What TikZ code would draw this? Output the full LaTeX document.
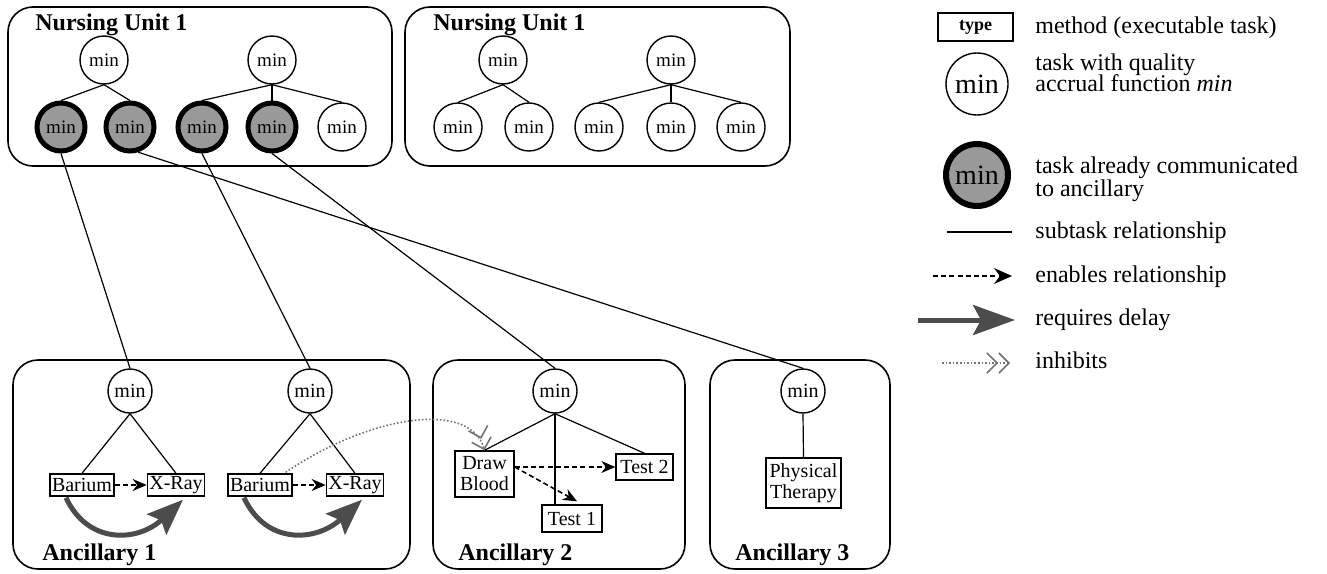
\documentclass[tikz,border=0pt]{standalone}
\usepackage{fontspec}
\setmainfont{Liberation Serif}
\usetikzlibrary{arrows.meta,calc}
\begin{document}
\begin{tikzpicture}[x=0.5pt,y=-0.5pt,
  unitbox/.style={draw, rounded corners=12.5pt, line width=0.8pt},
  title/.style={font=\fontsize{12}{13}\selectfont\bfseries, anchor=base west, inner sep=0pt},
  tnode/.style={circle, draw, line width=0.7pt, minimum size=24pt, inner sep=0pt, font=\fontsize{9.5}{10}\selectfont},
  done/.style={tnode, line width=2.5pt, fill=black!40},
  anode/.style={circle, draw, line width=0.7pt, minimum size=22pt, inner sep=0pt, font=\fontsize{10}{11}\selectfont},
  method/.style={draw, line width=0.7pt, inner sep=1pt, font=\fontsize{10}{10.5}\selectfont, align=center},
  sub/.style={line width=0.6pt},
  enab/.style={dash pattern=on 2.5pt off 1.6pt, line width=0.8pt, -{Stealth[length=7pt,width=6pt]}},
  delay/.style={line width=2.5pt, black!70, -{Stealth[length=18pt,width=14pt,inset=3pt]}},
  inhib/.style={densely dotted, black!55, line width=0.8pt, -{Straight Barb[length=5pt,width=10pt] Straight Barb[length=5pt,width=10pt]}},
  legtext/.style={font=\fontsize{12}{13}\selectfont, anchor=base west, inner sep=0pt}
]
\useasboundingbox (0,0) rectangle (1327,573);

% ---------- unit boxes ----------
\draw[unitbox] (8,7) rectangle (392,166);
\draw[unitbox] (405,7) rectangle (790,166);
\draw[unitbox] (13,360) rectangle (410,569);
\draw[unitbox] (433,360) rectangle (685,569);
\draw[unitbox] (710,360) rectangle (890,569);

\node[title] (tn1) at (35,30) {Nursing Unit 1};
\node[title] (tn2) at (433,30) {Nursing Unit 1};
\node[title] (ta1) at (42,560) {Ancillary 1};
\node[title] (ta2) at (458,560) {Ancillary 2};
\node[title] (ta3) at (735,560) {Ancillary 3};

% ---------- Nursing unit 1 (left) ----------
\node[tnode] (p1) at (104,60) {min};
\node[tnode] (p2) at (272,60) {min};
\node[done] (s1) at (61,127) {min};
\node[done] (s2) at (130,127) {min};
\node[done] (s3) at (202,127) {min};
\node[done] (s4) at (272,127) {min};
\node[tnode] (s5) at (342,127) {min};
\draw[sub] (p1.south) -- (s1.north);
\draw[sub] (p1.south) -- (s2.north);
\draw[sub] (p2.south) -- (s3.north);
\draw[sub] (p2.south) -- (s4.north);
\draw[sub] (p2.south) -- (s5.north);

% ---------- Nursing unit 1 (right) ----------
\node[tnode] (q1) at (503,60) {min};
\node[tnode] (q2) at (671,60) {min};
\node[tnode] (r1) at (458,127) {min};
\node[tnode] (r2) at (529,127) {min};
\node[tnode] (r3) at (599,127) {min};
\node[tnode] (r4) at (671,127) {min};
\node[tnode] (r5) at (741,127) {min};
\draw[sub] (q1.south) -- (r1.north);
\draw[sub] (q1.south) -- (r2.north);
\draw[sub] (q2.south) -- (r3.north);
\draw[sub] (q2.south) -- (r4.north);
\draw[sub] (q2.south) -- (r5.north);

% ---------- Ancillaries ----------
\node[anode] (a1) at (130,391) {min};
\node[anode] (a2) at (310,391) {min};
\node[anode] (a3) at (555,391) {min};
\node[anode] (a4) at (803,391) {min};

\node[method, minimum width=31pt, minimum height=11pt] (b1) at (82,485) {Barium};
\node[method, minimum width=28pt, minimum height=11pt] (x1) at (176,485) {X-Ray};
\node[method, minimum width=31pt, minimum height=11pt] (b2) at (260,485) {Barium};
\node[method, minimum width=28pt, minimum height=11pt] (x2) at (355,485) {X-Ray};
\node[method, minimum width=29.5pt, minimum height=23pt] (db) at (484.5,474) {Draw\\Blood};
\node[method, minimum width=28.5pt, minimum height=13pt] (t2) at (644.5,467) {Test 2};
\node[method, minimum width=30pt, minimum height=13.5pt] (t1) at (572,518.5) {Test 1};
\node[method, minimum width=37.5pt, minimum height=25pt] (pt) at (803.5,483) {Physical\\Therapy};

\draw[sub] (a1.south) -- (b1.north);
\draw[sub] (a1.south) -- (x1.north);
\draw[sub] (a2.south) -- (b2.north);
\draw[sub] (a2.south) -- (x2.north);
\draw[sub] (a3.south) -- (db.north);
\draw[sub] (a3.south) -- (a3.south |- t1.north);
\draw[sub] (a3.south) -- (t2.north);
\draw[sub] (a4.south) -- (pt.north);

% cross-unit subtask links
\draw[sub] (s1.south) -- (a1.north);
\draw[sub] (s2.-72) -- (a4.north);
\draw[sub] (s3.south) -- (a2.north);
\draw[sub] (s4.south) -- (a3.north);

% enables
\draw[enab] (b1.east) -- (x1.west);
\draw[enab] (b2.east) -- (x2.west);
\draw[enab] ([yshift=3.5pt]db.east) -- (t2.west);
\draw[enab] ([yshift=3.5pt]db.east) -- ([xshift=2.5pt,yshift=1.5pt]t1.north);

% requires delay
\draw[delay] ($(b1.south)+(-16,1)$) .. controls (88,545) and (138,542) .. ($(x1.south)+(7,3)$);
\draw[delay] ($(b2.south)+(-16,1)$) .. controls (266,545) and (316,542) .. ($(x2.south)+(7,3)$);

% inhibits
\draw[inhib] ($(b2.north east)+(-7,-1)$) .. controls (370,415) and (470,400) .. (db.north);

% ---------- Legend ----------
\node[method, minimum width=37.5pt, minimum height=14pt, font=\bfseries\fontsize{9}{10}\selectfont] (lt) at (975.5,27) {type};
\node[tnode, minimum size=31pt, font=\fontsize{14}{15}\selectfont] (lc) at (977,84) {min};
\node[done, minimum size=31pt, line width=3pt, font=\fontsize{14}{15}\selectfont] (ld) at (977,175) {min};
\coordinate (l1a) at (947,232); \coordinate (l1b) at (1012,232);
\coordinate (l2a) at (933,276); \coordinate (l2b) at (1012,276);
\coordinate (l3a) at (918,320); \coordinate (l3b) at (1015,320);
\coordinate (l4a) at (942,363); \coordinate (l4b) at (1010,363);
\draw[sub] (l1a) -- (l1b);
\draw[enab, -{Stealth[length=9pt,width=8pt]}] (l2a) -- (l2b);
\draw[delay, -{Stealth[length=21pt,width=15pt,inset=4pt]}] (l3a) -- (l3b);
\draw[inhib] (l4a) -- (l4b);

\node[legtext] (g1) at (1035,33) {method (executable task)};
\node[legtext] (g2) at (1035,70) {task with quality};
\node[legtext] (g3) at (1035,91) {accrual function \textit{min}};
\node[legtext] (g4) at (1035,173) {task already communicated};
\node[legtext] (g5) at (1035,196) {to ancillary};
\node[legtext] (g6) at (1035,238) {subtask relationship};
\node[legtext] (g7) at (1035,282) {enables relationship};
\node[legtext] (g8) at (1035,325) {requires delay};
\node[legtext] (g9) at (1035,368) {inhibits};
\end{tikzpicture}
\end{document}
